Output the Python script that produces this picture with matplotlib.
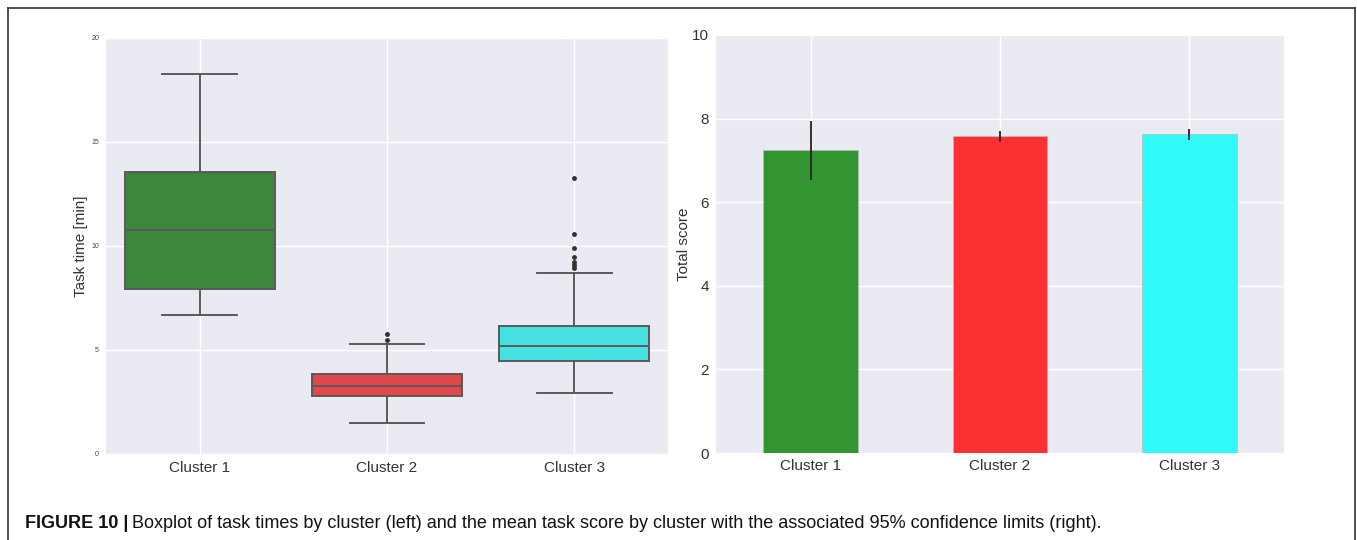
#!/usr/bin/env python3

import matplotlib
matplotlib.use('Agg')
from matplotlib import pyplot as plt
from matplotlib.lines import Line2D

plt.rcParams['font.family'] = ['Liberation Sans', 'DejaVu Sans']

# cluster names
clusters = ['Cluster 1', 'Cluster 2', 'Cluster 3']

# boxplot summary of task time per cluster (minutes)
whisker_low = [6.68, 1.48, 2.95]
q1 = [7.93, 2.77, 4.46]
median = [10.77, 3.28, 5.19]
q3 = [13.56, 3.86, 6.15]
whisker_high = [18.27, 5.29, 8.70]
outliers = [[], [5.48, 5.77], [8.94, 9.09, 9.23, 9.47, 9.90, 10.58, 13.27]]

# mean total score and 95% confidence limits
score_mean = [7.25, 7.59, 7.62]
score_lo = [6.53, 7.45, 7.48]
score_hi = [7.94, 7.70, 7.75]

box_colors = ['#3c873c', '#e0484c', '#48e1e1']
bar_colors = ['#329532', '#fc2f33', '#2ff9f9']
bg = '#eaeaf2'
edge = '#5a5a5a'

fig = plt.figure(figsize=(13.57, 5.40), dpi=100)

# ---- left: boxplot
ax1 = fig.add_axes([0.0781, 0.1593, 0.4142, 0.7704])
ax1.set_facecolor(bg)
stats = []
for i in range(len(clusters)):
    stats.append({'whislo': whisker_low[i], 'q1': q1[i], 'med': median[i],
                  'q3': q3[i], 'whishi': whisker_high[i], 'fliers': outliers[i]})
bp = ax1.bxp(stats, positions=range(len(clusters)), widths=0.8,
             patch_artist=True, showfliers=True,
             boxprops=dict(edgecolor=edge, linewidth=1.4),
             medianprops=dict(color=edge, linewidth=1.4),
             whiskerprops=dict(color=edge, linewidth=1.4),
             capprops=dict(color=edge, linewidth=1.4),
             flierprops=dict(marker='o', markersize=2.5, markerfacecolor='#333333',
                             markeredgecolor='#333333'))
for patch, c in zip(bp['boxes'], box_colors):
    patch.set_facecolor(c)
for cap in bp['caps']:
    xd = cap.get_xdata()
    mid = (xd[0] + xd[1]) / 2
    cap.set_xdata([mid - 0.2, mid + 0.2])
ax1.set_xlim(-0.5, 2.5)
ax1.set_ylim(0, 20)
ax1.set_yticks([0, 5, 10, 15, 20])
ax1.set_xticks(range(len(clusters)))
ax1.set_xticklabels(clusters)
ax1.tick_params(axis='y', labelsize=5, length=0, pad=5, colors='#444444')
ax1.tick_params(axis='x', labelsize=11, length=0, pad=5, colors='#333333')
ax1.set_ylabel('Task time [min]', fontsize=11, color='#333333', labelpad=2)
ax1.grid(True, color='white', linewidth=1)
ax1.set_axisbelow(True)
for s in ax1.spines.values():
    s.set_visible(False)

# ---- right: bar chart with confidence limits
ax2 = fig.add_axes([0.5276, 0.1611, 0.4186, 0.7741])
ax2.set_facecolor(bg)
x = range(len(clusters))
err = [[m - lo for m, lo in zip(score_mean, score_lo)],
       [hi - m for m, hi in zip(score_mean, score_hi)]]
ax2.bar(x, score_mean, width=0.5, color=bar_colors, edgecolor='#bbbbbb', linewidth=0.5,
        yerr=err, error_kw=dict(ecolor='#222222', elinewidth=1.3, capsize=0))
ax2.set_xlim(-0.5, 2.5)
ax2.set_ylim(0, 10)
ax2.set_yticks([0, 2, 4, 6, 8, 10])
ax2.set_xticks(list(x))
ax2.set_xticklabels(clusters)
ax2.tick_params(axis='both', labelsize=11, length=0, colors='#333333')
ax2.tick_params(axis='y', pad=5)
ax2.tick_params(axis='x', pad=4)
ax2.set_ylabel('Total score', fontsize=11, color='#333333', labelpad=1)
ax2.grid(True, color='white', linewidth=1)
ax2.set_axisbelow(True)
for s in ax2.spines.values():
    s.set_visible(False)

# ---- frame around the figure
W, H = 1357.0, 540.0
fcol = '#333333'
fig.add_artist(Line2D([8 / W, 8 / W], [0, 1 - 8 / H], color=fcol, linewidth=1.2))
fig.add_artist(Line2D([8 / W, 1355 / W], [1 - 8 / H, 1 - 8 / H], color=fcol, linewidth=1.2))
fig.add_artist(Line2D([1355 / W, 1355 / W], [0, 1 - 8 / H], color=fcol, linewidth=1.2))

# ---- caption
t = fig.text(25 / W, 1 - 524 / H, 'FIGURE 10 |', fontsize=13, fontweight='bold',
             va='center', ha='left', color='#111111')
fig.canvas.draw()
bb = t.get_window_extent()
fig.text(bb.x1 / W + 4 / W, 1 - 524 / H,
         'Boxplot of task times by cluster (left) and the mean task score by cluster '
         'with the associated 95% confidence limits (right).',
         fontsize=13, va='center', ha='left', color='#111111')

fig.savefig('out.png', dpi=100)
